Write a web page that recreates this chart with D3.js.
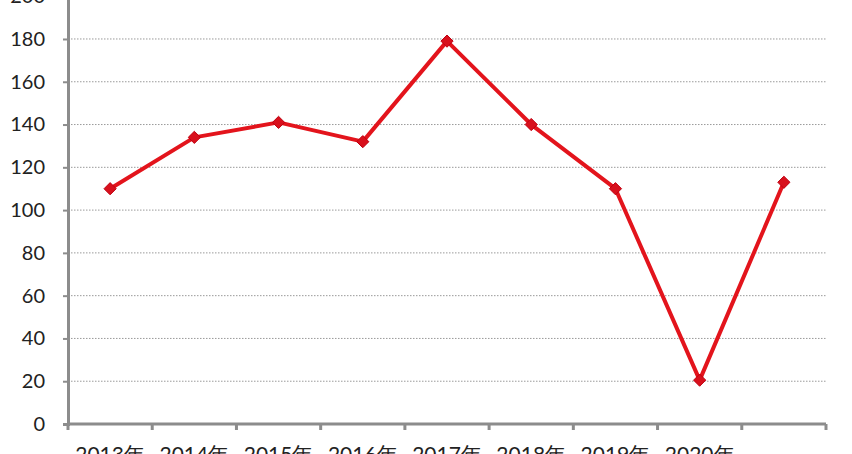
<!DOCTYPE html>
<html><head><meta charset="utf-8">
<script src="https://cdn.jsdelivr.net/npm/d3@7"></script>
<style>
html,body{margin:0;padding:0;background:#fff;overflow:hidden;}
svg{display:block;}
</style>
</head><body>
<svg id="c" width="852" height="454"></svg>
<script>
const categories = ["2013年","2014年","2015年","2016年","2017年","2018年","2019年","2020年",""];
const values = [110, 134, 141, 132, 179, 140, 110, 20.5, 113];
const yTicks = [0,20,40,60,80,100,120,140,160,180,200];

(function(){
const svg = d3.select("#c");
const mLeft = 68, mRight = 826, mBottom = 424, mTop = -3.8;
const x = d3.scaleBand().domain(categories.map((d,i)=>i)).range([mLeft,mRight]).padding(0);
const y = d3.scaleLinear().domain([0,200]).range([mBottom,mTop]);
const font = "Lato, 'Liberation Sans', sans-serif";

// gridlines
svg.append("g").selectAll("line").data(yTicks.filter(d=>d>0)).join("line")
  .attr("x1",mLeft).attr("x2",mRight)
  .attr("y1",d=>y(d)).attr("y2",d=>y(d))
  .attr("stroke","#9a9a9a").attr("stroke-width",1).attr("stroke-dasharray","1.5,1.5");

// y axis
const ya = svg.append("g").attr("transform",`translate(${mLeft},0)`)
  .call(d3.axisLeft(y).tickValues(yTicks).tickSize(5).tickPadding(18).tickFormat(d3.format("d")));
ya.select(".domain").attr("stroke","#8c8c8c").attr("stroke-width",3);
ya.selectAll(".tick line").attr("stroke","#8c8c8c").attr("stroke-width",2);
ya.selectAll("text").attr("font-family",font).attr("font-size",20).attr("fill","#222");

// x axis
const xa = svg.append("g").attr("transform",`translate(0,${mBottom})`)
  .call(d3.axisBottom(x).tickSize(0).tickPadding(23).tickFormat(i=>categories[i]));
xa.select(".domain").attr("stroke","#8c8c8c").attr("stroke-width",3).attr("d",`M${mLeft},0H${mRight}`);
xa.selectAll("text").attr("font-family",font).attr("font-size",21).attr("fill","#222");
// boundary ticks
const bounds = categories.map((d,i)=>x(i)).concat([mRight]);
svg.append("g").selectAll("line").data(bounds).join("line")
  .attr("x1",d=>d).attr("x2",d=>d).attr("y1",mBottom).attr("y2",mBottom+6)
  .attr("stroke","#8c8c8c").attr("stroke-width",3);

// line
const cx = i => x(i) + x.bandwidth()/2;
svg.append("path").datum(values)
  .attr("d", d3.line().x((d,i)=>cx(i)).y(d=>y(d)))
  .attr("fill","none").attr("stroke","#e3141c").attr("stroke-width",4).attr("stroke-linejoin","round");

// markers
svg.append("g").selectAll("path").data(values).join("path")
  .attr("transform",(d,i)=>`translate(${cx(i)},${y(d)})`)
  .attr("d", d3.symbol().type(d3.symbolDiamond2).size(95))
  .attr("fill","#d8101c").attr("stroke","#c00010").attr("stroke-width",1);
})();
</script>
</body></html>
